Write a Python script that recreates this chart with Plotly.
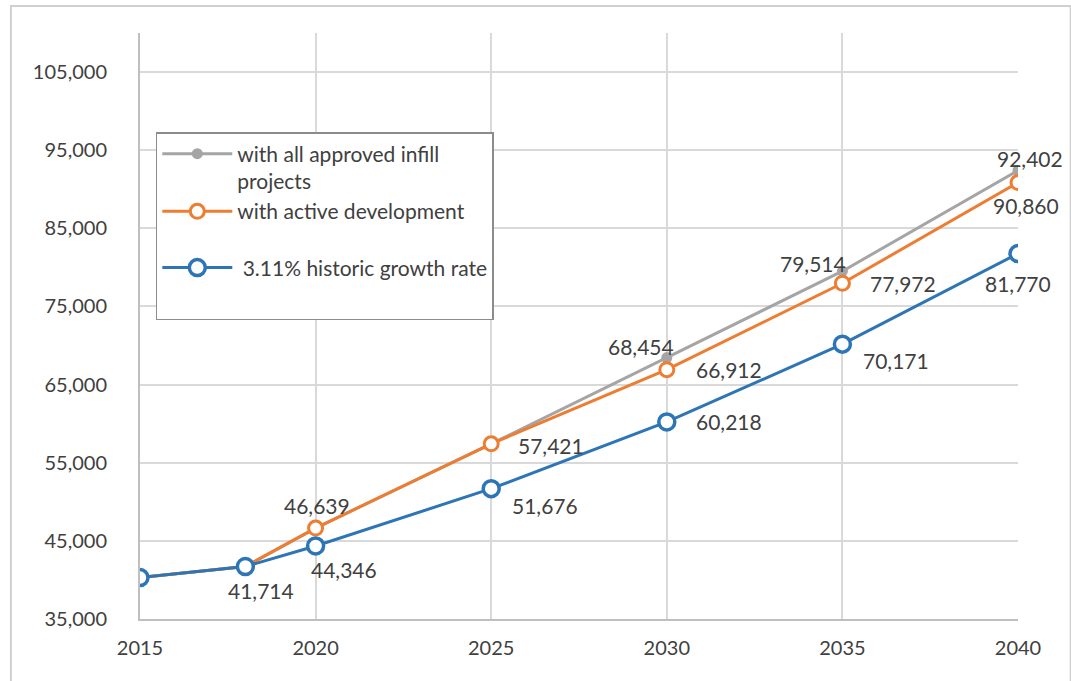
import plotly.graph_objects as go

years = [2015, 2018, 2020, 2025, 2030, 2035, 2040]
infill = [40300, 41714, 46639, 57421, 68454, 79514, 92402]
active = [40300, 41714, 46639, 57421, 66912, 77972, 90860]
historic = [40300, 41714, 44346, 51676, 60218, 70171, 81770]

y_ticks = [35000, 45000, 55000, 65000, 75000, 85000, 95000, 105000]
x_ticks = [2015, 2020, 2025, 2030, 2035, 2040]

# which points carry a data label, and the label's pixel offset (dx right, dy down)
infill_label_style = {4: (-26, -11), 5: (-29, -8), 6: (12, -12)}
active_label_style = {2: (1, -23), 3: (60, 2), 4: (62, 0), 5: (61, 0), 6: (8, 23)}
historic_label_style = {1: (16, 24), 2: (28, 24), 3: (54, 17), 4: (62, 0), 5: (54, 16), 6: (0, 30)}

GRAY = "#A5A5A5"
ORANGE = "#ED7D31"
BLUE = "#2E75B6"
TXT = "#404040"
FONT = "Lato, 'Open Sans', sans-serif"
LABEL_SIZE = 21

fig = go.Figure()
fig.add_trace(go.Scatter(
    x=years, y=infill, name="with all approved infill<br>projects",
    mode="lines+markers", legendgroup="a",
    line=dict(color=GRAY, width=3), marker=dict(size=11, color=GRAY)))
fig.add_trace(go.Scatter(
    x=years, y=active, name="with active development",
    mode="lines+markers", legendgroup="a",
    line=dict(color=ORANGE, width=3),
    marker=dict(size=14, color="white", line=dict(color=ORANGE, width=3))))
fig.add_trace(go.Scatter(
    x=years, y=historic, name=" 3.11% historic growth rate",
    mode="lines+markers", legendgroup="b",
    line=dict(color=BLUE, width=3),
    marker=dict(size=16, color="white", line=dict(color=BLUE, width=3.5))))
# empty legend row to reproduce the legend box's bottom padding
fig.add_trace(go.Scatter(
    x=[None], y=[None], name=" ", mode="lines", legendgroup="b",
    line=dict(color="rgba(0,0,0,0)", width=0), hoverinfo="skip"))

for values, style in ((infill, infill_label_style),
                      (active, active_label_style),
                      (historic, historic_label_style)):
    for i, (dx, dy) in style.items():
        fig.add_annotation(x=years[i], y=values[i], text=f"{values[i]:,}",
                           showarrow=False, xshift=dx, yshift=-dy,
                           font=dict(size=LABEL_SIZE, color=TXT, family=FONT))

fig.update_layout(
    width=1071, height=681,
    margin=dict(l=140, r=53, t=33, b=62),
    paper_bgcolor="white", plot_bgcolor="white",
    font=dict(family=FONT, size=21, color=TXT),
    showlegend=True,
    legend=dict(x=0.018, y=0.831, xanchor="left", yanchor="top",
                bordercolor="#8C8C8C", borderwidth=1.5, bgcolor="white",
                font=dict(size=21, color=TXT, family=FONT), valign="top",
                tracegroupgap=26, itemwidth=70, traceorder="grouped"),
    xaxis=dict(range=[2015, 2040], tickvals=x_ticks, showgrid=True,
               gridcolor="#D9D9D9", gridwidth=1.5, showline=True,
               linecolor="#BFBFBF", linewidth=2, zeroline=False,
               tickfont=dict(size=20, color=TXT), ticks="", ticklabelstandoff=10),
    yaxis=dict(range=[35000, 110000], tickvals=y_ticks, tickformat=",",
               showgrid=True, gridcolor="#D9D9D9", gridwidth=1.5, showline=True,
               linecolor="#BFBFBF", linewidth=2, zeroline=False,
               tickfont=dict(size=20, color=TXT), ticks="", ticklabelstandoff=27),
)
fig.add_shape(type="rect", xref="paper", yref="paper",
              x0=-0.147, x1=1.06, y0=-0.2, y1=1.046,
              line=dict(color="#D0D0D0", width=2), layer="below")
fig.write_html("out.html")
